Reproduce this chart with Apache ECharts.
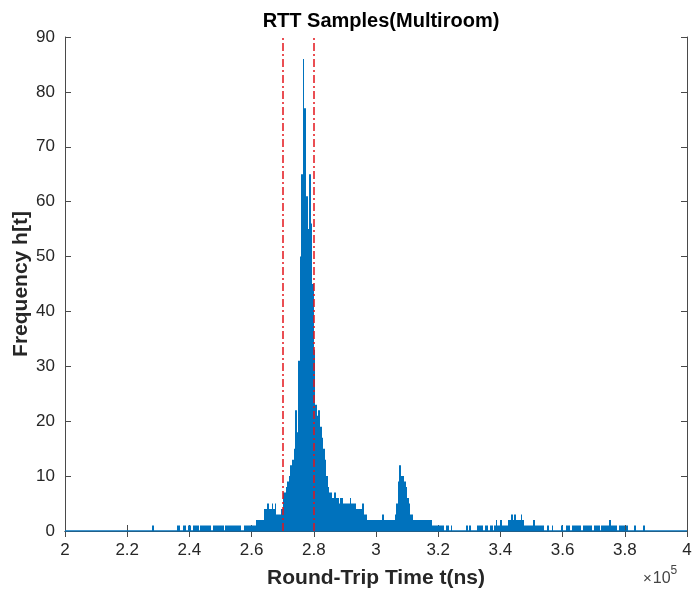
<!DOCTYPE html>
<html>
<head>
<meta charset="utf-8">
<script src="https://cdn.jsdelivr.net/npm/echarts@6/dist/echarts.min.js"></script>
<style>
html, body { margin: 0; padding: 0; background: #fff; }
#chart { width: 696px; height: 592px; }
</style>
</head>
<body>
<div id="chart"></div>
<script>
// Histogram of round-trip times, x in units of 1e5 ns
const binStart = 2.28;
const binWidth = 0.005;
const counts = [
  // 2.280 - 2.345
  1, 0, 0, 0, 0, 0, 0, 0, 0, 0, 0, 0, 0, 0,
  // 2.350 -
  0, 0, 1, 1, 0, 0, 1, 1, 0, 1,
  1, 0, 1, 1, 1, 1, 0, 1, 1, 1,
  1, 1, 1, 1, 0, 1, 1, 1, 1, 1,
  1, 1, 0, 1, 1, 1, 1, 1, 1, 1,
  1, 1, 1, 0, 0, 1, 1, 1, 1, 1,
  1, 1, 1, 2, 2, 2, 2, 2, 4, 4,
  5, 4, 4, 5, 4, 5, 3, 3, 3, 4,
  7, 7, 8, 9, 10, 12, 13, 15, 22, 18,
  31, 50, 65, 86, 77, 61, 55, 65, 56, 45,
  33, 23, 21, 22, 19, 17, 15, 13, 10, 8,
  7, 7, 6, 7, 6, 6, 5, 6, 6, 5,
  5, 5, 5, 6, 5, 5, 5, 4, 4, 4,
  4, 5, 3, 3, 2, 2, 2, 2, 2, 2,
  2, 2, 2, 2, 3, 2, 2, 2, 2, 2,
  2, 2, 3, 5, 9, 12, 10, 10, 9, 8,
  6, 5, 3, 3, 2, 2, 2, 2, 2, 2,
  2, 2, 2, 2, 2, 2, 1, 1, 1, 1,
  1, 1, 1, 1, 0, 1, 1, 0, 1, 0,
  0, 0, 0, 0, 0, 0, 0, 0, 1, 0,
  1, 0, 0, 0, 0, 1, 1, 1, 1, 0,
  1, 1, 0, 1, 1, 0, 1, 2, 1, 1,
  2, 1, 1, 1, 1, 2, 2, 3, 2, 3,
  2, 2, 2, 3, 2, 1, 1, 1, 1, 1,
  1, 2, 1, 1, 1, 1, 1, 1, 0, 0,
  1, 0, 0, 1, 0, 0, 0, 0, 0, 1,
  0, 0, 1, 1, 1, 0, 1, 1, 1, 1,
  1, 1, 0, 1, 1, 1, 1, 1, 1, 0,
  1, 1, 1, 1, 0, 1, 1, 1, 1, 1,
  2, 1, 1, 1, 1, 0, 1, 1, 1, 1,
  0, 1, 0, 0, 0, 0, 1, 0, 0, 0,
  0, 0, 1, 0
];
const thresholds = [2.704, 2.804];
const xTickLabels = ['2', '2.2', '2.4', '2.6', '2.8', '3', '3.2', '3.4', '3.6', '3.8', '4'];
const yTickLabels = ['0', '10', '20', '30', '40', '50', '60', '70', '80', '90'];

const FONT = "'Liberation Sans', Arial, sans-serif";
const AXIS_COLOR = '#4a4a4a';
const LABEL_COLOR = '#262626';
const BAR_COLOR = '#0072BD';

const histData = [];
counts.forEach((c, i) => {
  if (c > 0) histData.push([+(binStart + i * binWidth).toFixed(4), c]);
});

const xMin = 2, xMax = 4, xStep = 0.2;
const yMin = 0, yMax = 90, yStep = 10;

function axisCommon(extra) {
  return Object.assign({
    type: 'value',
    axisLine: { show: true, lineStyle: { color: AXIS_COLOR, width: 1 } },
    axisTick: { show: true, inside: true, length: 6, lineStyle: { color: AXIS_COLOR, width: 1 } },
    splitLine: { show: false }
  }, extra);
}

const chart = echarts.init(document.getElementById('chart'), null, { renderer: 'canvas' });
chart.setOption({
  animation: false,
  backgroundColor: '#fff',
  textStyle: { fontFamily: FONT },
  title: {
    text: 'RTT Samples(Multiroom)',
    left: 376,
    textAlign: 'center',
    top: 6,
    textStyle: { fontFamily: FONT, fontSize: 20, fontWeight: 'bold', color: '#000' }
  },
  grid: { left: 65, right: 9, top: 37, bottom: 61, containLabel: false, outerBoundsMode: 'none' },
  xAxis: [
    axisCommon({
      position: 'bottom',
      min: xMin, max: xMax, interval: xStep,
      name: 'Round-Trip Time t(ns)',
      nameLocation: 'middle',
      nameGap: 37,
      nameMoveOverlap: false,
      nameTextStyle: { fontFamily: FONT, fontSize: 21, fontWeight: 'bold', color: LABEL_COLOR },
      axisLabel: {
        show: true, margin: 11, fontSize: 17, color: LABEL_COLOR, fontFamily: FONT,
        formatter: v => xTickLabels[Math.round((v - xMin) / xStep)]
      }
    }),
    axisCommon({
      position: 'top',
      min: xMin, max: xMax, interval: xStep,
      axisLabel: { show: false }
    })
  ],
  yAxis: [
    axisCommon({
      position: 'left',
      min: yMin, max: yMax, interval: yStep,
      name: 'Frequency h[t]',
      nameLocation: 'middle',
      nameGap: 33,
      nameMoveOverlap: false,
      nameTextStyle: { fontFamily: FONT, fontSize: 21, fontWeight: 'bold', color: LABEL_COLOR },
      axisLabel: {
        show: true, margin: 10, fontSize: 17, color: LABEL_COLOR, fontFamily: FONT,
        formatter: v => yTickLabels[Math.round((v - yMin) / yStep)]
      }
    }),
    axisCommon({
      position: 'right',
      min: yMin, max: yMax, interval: yStep,
      axisLabel: { show: false }
    })
  ],
  series: [
    {
      // zero-count bins: flat line along the whole range
      type: 'line',
      name: 'empty bins',
      data: [[xMin, 0], [xMax, 0]],
      symbol: 'none',
      silent: true,
      lineStyle: { color: BAR_COLOR, width: 1.5 },
      z: 3
    },
    {
      type: 'custom',
      name: 'RTT',
      xAxisIndex: 0,
      yAxisIndex: 0,
      clip: true,
      data: histData,
      z: 2,
      renderItem: function (params, api) {
        const x0 = api.value(0);
        const h = api.value(1);
        const pTop = api.coord([x0, h]);
        const pBase = api.coord([x0 + binWidth, 0]);
        const left = Math.round(pTop[0]);
        const right = Math.max(left + 1, Math.round(pBase[0]));
        return {
          type: 'rect',
          shape: {
            x: left,
            y: pTop[1],
            width: right - left,
            height: pBase[1] - pTop[1]
          },
          style: { fill: BAR_COLOR }
        };
      }
    },
    {
      type: 'line',
      name: 'thresholds',
      data: [],
      xAxisIndex: 0,
      yAxisIndex: 0,
      z: 5,
      markLine: {
        silent: true,
        symbol: ['none', 'none'],
        label: { show: false },
        lineStyle: { color: '#e3141b', width: 1.5, type: [8, 3, 2, 3] },
        data: thresholds.map(t => ({ xAxis: t }))
      }
    }
  ],
  graphic: [
    {
      type: 'text',
      left: 643,
      top: 565,
      style: {
        text: '{m|×}{b|10}{s|5}',
        rich: {
          m: { fontFamily: FONT, fontSize: 15, fill: '#444', padding: [7, 1, 0, 0] },
          b: { fontFamily: FONT, fontSize: 16, fill: '#444', padding: [7, 0, 0, 0] },
          s: { fontFamily: FONT, fontSize: 12, fill: '#444', padding: [0, 0, 8, 0] }
        }
      }
    }
  ]
});
</script>
</body>
</html>
